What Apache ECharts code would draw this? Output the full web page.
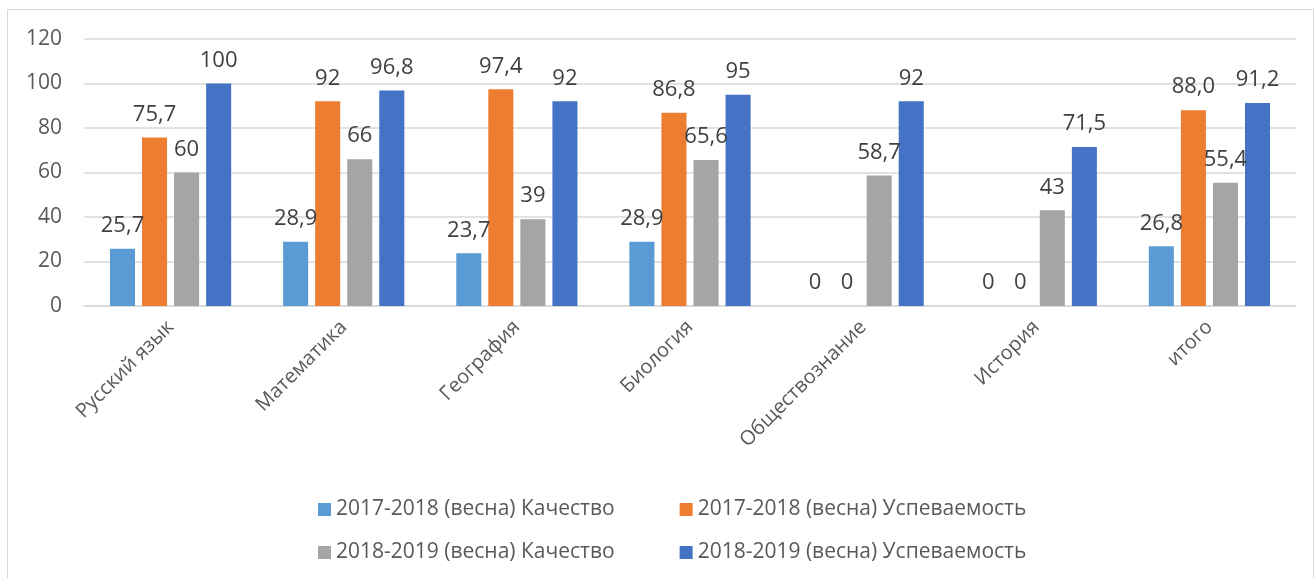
<!DOCTYPE html>
<html>
<head>
<meta charset="utf-8">
<script src="https://cdn.jsdelivr.net/npm/echarts@6/dist/echarts.min.js"></script>
<style>
  html, body { margin: 0; padding: 0; background: #fff; }
  #chart { width: 1315px; height: 578px; }
</style>
</head>
<body>
<div id="chart"></div>
<script>
// категории
var categories = ['Русский язык', 'Математика', 'География', 'Биология', 'Обществознание', 'История', 'итого'];
var seriesNames = [
  '2017-2018 (весна) Качество',
  '2017-2018 (весна) Успеваемость',
  '2018-2019 (весна) Качество',
  '2018-2019 (весна) Успеваемость'
];
var quality1718 = [25.7, 28.9, 23.7, 28.9, 0, 0, 26.8];
var progress1718 = [75.7, 92, 97.4, 86.8, 0, 0, '88.0'];
var quality1819 = [60, 66, 39, 65.6, 58.7, 43, 55.4];
var progress1819 = [100, 96.8, 92, 95, 92, 71.5, 91.2];
var yTicks = [0, 20, 40, 60, 80, 100, 120];

var colors = ['#5b9bd5', '#ed7d31', '#a5a5a5', '#4472c4'];
var font = '"Open Sans", "Noto Sans", sans-serif';

var chart = echarts.init(document.getElementById('chart'));

function makeSeries(name, data) {
  return {
    name: name,
    type: 'bar',
    data: data,
    barGap: '28%',
    barCategoryGap: '30%',
    label: {
      show: true,
      position: 'top',
      distance: 12,
      color: '#404040',
      fontSize: 22,
      fontFamily: font,
      formatter: function (p) {
        return String(p.data).replace('.', ',');
      }
    }
  };
}

var legendText = { color: '#595959', fontSize: 21, fontFamily: font };

var option = {
  animation: false,
  color: colors,
  graphic: [{
    type: 'rect',
    shape: { x: 7.5, y: 9.5, width: 1306, height: 580 },
    style: { fill: 'none', stroke: '#d9d9d9', lineWidth: 1 },
    silent: true
  }],
  grid: { left: 84, right: 19, top: 39, bottom: 272 },
  legend: [
    {
      data: seriesNames.slice(0, 2),
      left: 313,
      top: 494,
      itemWidth: 13,
      itemHeight: 13,
      itemGap: 65,
      icon: 'rect',
      textStyle: legendText
    },
    {
      data: seriesNames.slice(2, 4),
      left: 313,
      top: 537,
      itemWidth: 13,
      itemHeight: 13,
      itemGap: 65,
      icon: 'rect',
      textStyle: legendText
    }
  ],
  xAxis: {
    type: 'category',
    data: categories,
    axisTick: { show: false },
    axisLine: { lineStyle: { color: '#d9d9d9', width: 1.5 } },
    axisLabel: {
      rotate: 45,
      margin: 18,
      color: '#595959',
      fontSize: 20,
      fontFamily: font,
      interval: 0
    }
  },
  yAxis: {
    type: 'value',
    min: yTicks[0],
    max: yTicks[yTicks.length - 1],
    interval: 20,
    axisLine: { show: false },
    axisTick: { show: false },
    splitLine: { lineStyle: { color: '#d9d9d9', width: 1.5 } },
    axisLabel: { color: '#595959', fontSize: 21, fontFamily: font, margin: 22 }
  },
  series: [
    makeSeries(seriesNames[0], quality1718),
    makeSeries(seriesNames[1], progress1718),
    makeSeries(seriesNames[2], quality1819),
    makeSeries(seriesNames[3], progress1819)
  ]
};

option && chart.setOption(option);
</script>
</body>
</html>
